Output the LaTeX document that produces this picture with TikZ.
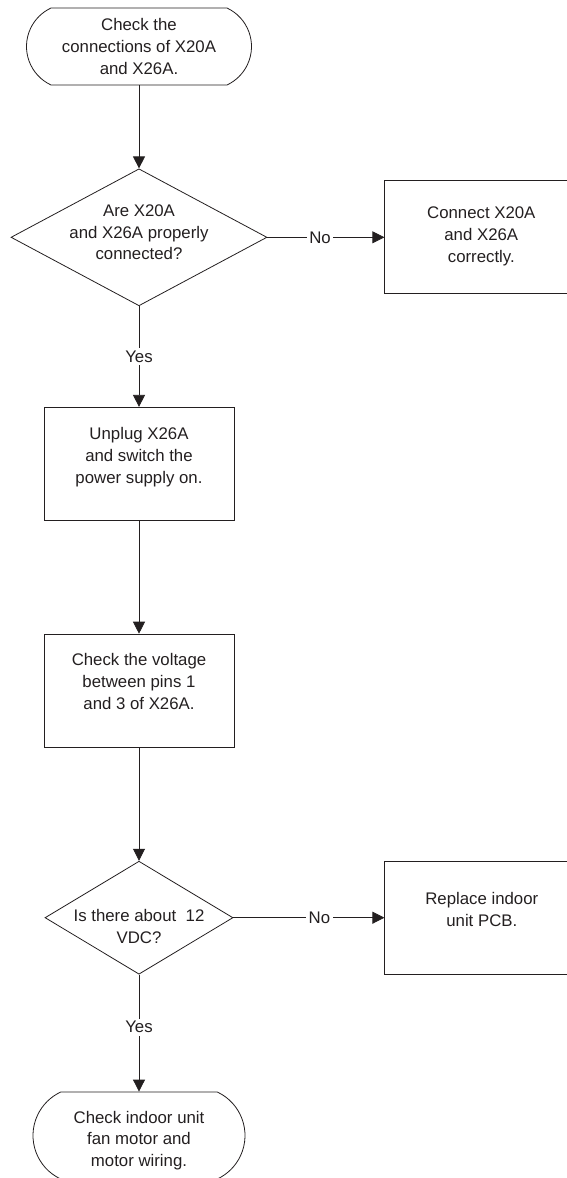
\documentclass[tikz,border=0pt]{standalone}
\usepackage{fontspec}
\setmainfont{Liberation Sans}
\usepackage{tikz}
\usetikzlibrary{arrows.meta,positioning,shapes.geometric,shapes.misc}
\definecolor{FlowInk}{HTML}{231F20}

\begin{document}
\begin{tikzpicture}[
  x=1pt, y=1pt,
  font=\fontsize{16.8}{21.7}\selectfont,
  terminal/.style={draw=FlowInk,line width=0.8pt,rounded rectangle,rounded rectangle arc length=130,inner sep=0pt},
  decision/.style={draw=FlowInk,line width=0.8pt,diamond,inner sep=0pt},
  action/.style={draw=FlowInk,line width=0.8pt,rectangle,inner sep=0pt,minimum width=190pt,minimum height=113pt},
  txt/.style={align=center,inner sep=0pt,text=FlowInk},
  answer/.style={fill=white,inner sep=2.5pt,text=FlowInk},
  arrow/.style={-{Triangle[length=12pt,width=12pt]},draw=FlowInk,line width=0.8pt}
]
  \useasboundingbox (0,0) rectangle (566,-1178);

  \node[terminal, minimum width=225pt, minimum height=77pt,
    label={[txt]center:Check the\\connections of X20A\\and X26A.}] (start) at (139,-46.5) {};
  \node[decision, minimum width=256pt, minimum height=137pt, below=83pt of start,
    label={[txt,yshift=5pt]center:Are X20A\\and X26A properly\\connected?}] (conn) {};
  \node[action, minimum width=193pt, right=117pt of conn,
    label={[txt,yshift=1pt]center:Connect X20A\\and X26A\\correctly.}] (reconnect) {};
  \node[action, below=100.7pt of conn,
    label={[txt,yshift=6.6pt]center:Unplug X26A\\and switch the\\power supply on.}] (unplug) {};
  \node[action, below=113pt of unplug,
    label={[txt,yshift=9pt]center:Check the voltage\\between pins 1\\and 3 of X26A.}] (measure) {};
  \node[decision, minimum width=188pt, minimum height=113pt, below=113.3pt of measure,
    label={[txt,yshift=-8.5pt]center:Is there about\ \ 12\\VDC?}] (twelve) {};
  \node[action, minimum width=194pt, right=151pt of twelve,
    label={[txt,yshift=8pt]center:Replace indoor\\unit PCB.}] (replace) {};
  \node[terminal, minimum width=212pt, minimum height=87pt, below=117pt of twelve,
    label={[txt,yshift=-5pt]center:Check indoor unit\\fan motor and\\motor wiring.}] (motor) {};

  \draw[arrow] (start) -- (conn);
  \draw[arrow] (conn) -- node[answer, pos=.45] {No} (reconnect);
  \draw[arrow] (conn) -- node[answer] {Yes} (unplug);
  \draw[arrow] (unplug) -- (measure);
  \draw[arrow] (measure) -- (twelve);
  \draw[arrow] (twelve) -- node[answer, pos=.57] {No} (replace);
  \draw[arrow] (twelve) -- node[answer, pos=.45] {Yes} (motor);
\end{tikzpicture}
\end{document}
